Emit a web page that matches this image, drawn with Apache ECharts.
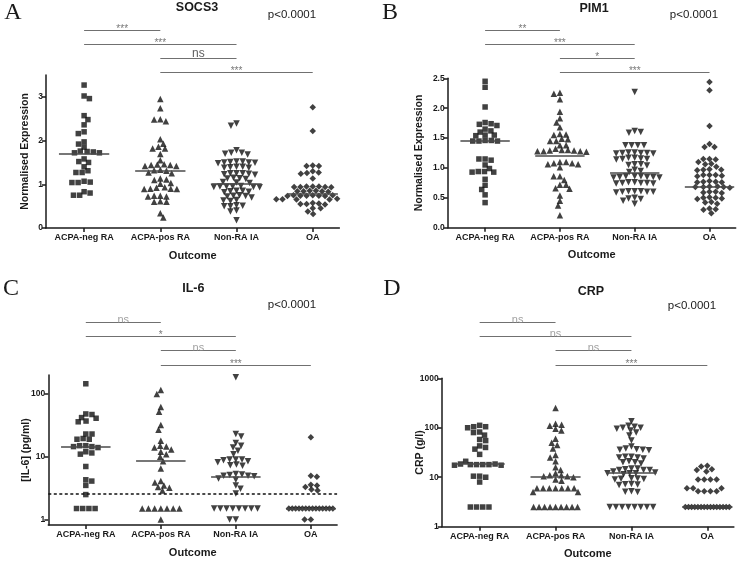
<!DOCTYPE html>
<html><head><meta charset="utf-8">
<script src="https://cdn.jsdelivr.net/npm/echarts@6/dist/echarts.min.js"></script>
<style>html,body{margin:0;padding:0;background:#fff}#c{width:750px;height:561px}</style>
</head><body><div id="c"></div>
<script>
const categories = ['ACPA-neg RA', 'ACPA-pos RA', 'Non-RA IA', 'OA'];

// Panel A: SOCS3 (normalised expression)
const socs3AcpaNeg = [3.27,3.02,2.96,2.57,2.48,2.36,2.20,2.16,1.97,1.92,1.85,1.76,1.72,1.72,1.74,1.75,1.58,1.52,1.50,1.40,1.31,1.27,1.27,1.07,1.04,1.04,1.05,0.80,0.75,0.75,0.83];
const socs3AcpaPos = [2.95,2.74,2.49,2.44,2.48,2.03,1.93,1.86,1.82,1.82,1.69,1.55,1.45,1.44,1.42,1.42,1.44,1.46,1.33,1.32,1.31,1.27,1.25,1.13,1.10,1.11,1.03,1.01,0.92,0.90,0.89,0.89,0.90,0.93,0.74,0.72,0.72,0.74,0.61,0.60,0.60,0.34,0.24];
const socs3NonRA = [2.39,2.34,1.78,1.72,1.70,1.68,1.72,1.52,1.50,1.49,1.48,1.50,1.52,1.51,1.40,1.38,1.38,1.40,1.39,1.25,1.25,1.22,1.24,1.25,1.23,1.15,1.13,1.12,1.14,1.05,1.03,1.04,0.95,0.95,0.94,0.96,0.94,0.95,0.93,0.85,0.83,0.84,0.82,0.85,0.75,0.73,0.72,0.74,0.70,0.64,0.62,0.63,0.52,0.51,0.50,0.50,0.40,0.38,0.18];
const socs3OA = [2.76,2.22,1.42,1.42,1.43,1.26,1.27,1.30,1.24,1.13,0.94,0.95,0.94,0.95,0.94,0.93,0.95,0.84,0.85,0.83,0.84,0.85,0.84,0.74,0.75,0.73,0.74,0.75,0.74,0.73,0.75,0.66,0.65,0.67,0.66,0.65,0.66,0.55,0.54,0.56,0.55,0.57,0.45,0.45,0.32,0.38];
const socs3Medians = [1.70, 1.32, 1.02, 0.79];
const socs3YTicks = [0, 1, 2, 3];
const socs3Sig = [[0,1,'***'],[0,2,'***'],[1,2,'ns'],[1,3,'***']];

// Panel B: PIM1 (normalised expression)
const pim1AcpaNeg = [2.45,2.35,2.02,1.74,1.71,1.76,1.73,1.65,1.60,1.62,1.55,1.54,1.55,1.46,1.45,1.45,1.46,1.45,1.15,1.13,1.15,1.05,0.94,0.93,0.93,0.94,0.99,0.81,0.71,0.64,0.55,0.42];
const pim1AcpaPos = [2.26,2.24,2.15,1.94,1.83,1.76,1.68,1.57,1.56,1.55,1.49,1.45,1.45,1.48,1.38,1.38,1.32,1.30,1.29,1.28,1.28,1.27,1.28,1.29,1.30,1.10,1.08,1.06,1.06,1.08,1.10,1.01,0.86,0.86,0.80,0.72,0.72,0.65,0.66,0.54,0.45,0.37,0.21];
const pim1NonRA = [2.27,1.62,1.60,1.59,1.38,1.38,1.38,1.38,1.26,1.25,1.25,1.24,1.25,1.26,1.24,1.17,1.15,1.16,1.14,1.15,1.17,1.06,1.05,1.04,1.06,0.97,0.95,0.93,0.86,0.85,0.84,0.85,0.86,0.84,0.85,0.86,0.76,0.75,0.74,0.75,0.76,0.74,0.75,0.61,0.60,0.60,0.61,0.59,0.60,0.61,0.50,0.49,0.48,0.45,0.40];
const pim1OA = [2.44,2.30,1.70,1.40,1.35,1.35,1.15,1.14,1.15,1.10,1.07,1.06,1.02,0.98,0.97,0.97,0.96,0.88,0.88,0.87,0.88,0.86,0.77,0.76,0.77,0.76,0.78,0.68,0.68,0.69,0.67,0.68,0.69,0.60,0.59,0.58,0.60,0.50,0.49,0.50,0.48,0.51,0.42,0.43,0.40,0.32,0.31,0.30,0.24];
const pim1Medians = [1.45, 1.21, 0.92, 0.69];
const pim1YTicks = [0, 0.5, 1, 1.5, 2, 2.5];
const pim1Sig = [[0,1,'**'],[0,2,'***'],[1,2,'*'],[1,3,'***']];

// Panel C: IL-6 (pg/ml), log scale
const il6AcpaNeg = [145,48,47,41,42,36,37,23,23,19,19,19.5,15,14.5,14,14.5,15,12,11,11.5,7,4.3,4.1,3.5,2.5,1.5,1.5,1.5,1.5];
const il6AcpaPos = [115,100,62,52,32,27,18,15,14,14.5,13,12,11,10,8.5,6.5,4.1,3.9,3.5,3.3,3.2,2.9,1.5,1.5,1.5,1.5,1.5,1.5,1.5,1.0];
const il6NonRA = [185,23,21,16.5,15,14,12.5,11,9,9,8.8,8.5,9,8.2,7.5,7.3,7.2,5.2,5,4.9,5.3,5,5.1,4.5,4.3,3.5,3.1,2.6,1.5,1.5,1.5,1.5,1.5,1.5,1.5,1.5,1.0,1.0];
const il6OA = [20.5,5.0,4.8,3.6,3.5,3.0,2.9,3.3,1.5,1.5,1.5,1.5,1.5,1.5,1.5,1.5,1.5,1.5,1.5,1.5,1.5,1.5,1.0,1.0];
const il6Medians = [14.4, 8.5, 4.8, 1.5];
const il6YTicks = [1, 10, 100];
const il6Threshold = 2.6;
const il6Sig = [[0,1,'ns'],[0,2,'*'],[1,2,'ns'],[1,3,'***']];

// Panel D: CRP (g/l), log scale
const crpAcpaNeg = [105,100,105,112,82,80,71,58,55,43,40,37,29,21,18.5,18,18,17.5,18,18.5,18,17.5,10.5,10,10.5,8,2.5,2.5,2.5,2.5];
const crpAcpaPos = [250,115,120,110,95,88,60,50,45,38,28,25,21,16,14,11,10.5,10,10.5,11,12,9,8.5,6,6,6,6,6,6,6,5,5,2.5,2.5,2.5,2.5,2.5,2.5,2.5,2.5,2.5];
const crpNonRA = [135,105,100,95,88,80,70,100,110,55,42,38,36,36,35,37,26,25,25,26,24,21,20,19,20,15,14,14.5,14,15,14,13,12.5,12,12,11.5,12,9.5,9.3,9,9.2,9.4,7.2,7,7.3,7.1,5.2,5,5.1,2.5,2.5,2.5,2.5,2.5,2.5,2.5,2.5];
const crpOA = [17,16.5,14.5,13,14,9,9,9,9,6,6,6,5.2,5.2,5.2,5.2,2.5,2.5,2.5,2.5,2.5,2.5,2.5,2.5,2.5,2.5,2.5,2.5,2.5,2.5,2.5];
const crpMedians = [18.5, 10.2, 12.6, 2.5];
const crpYTicks = [1, 10, 100, 1000];
const crpSig = [[0,1,'ns'],[0,2,'ns'],[1,2,'ns'],[1,3,'***']];

const FONT = '"Liberation Sans", Arial, sans-serif';
const INK = '#1a1a1a';

const panels = [
  {letter:'A', title:'SOCS3', groups:[socs3AcpaNeg,socs3AcpaPos,socs3NonRA,socs3OA], medians:socs3Medians, sig:socs3Sig,
   yTicks:socs3YTicks, yFmt:v=>String(v), yName:'Normalised Expression', yType:'value', yMin:0, yMax:3.5, yNameGap:15,
   plot:{left:46, top:75, width:293.4, height:153}, sigBox:{top:16.7, height:70}, nsStyle:{fontSize:12, color:'#333', distance:-1},
   letterPos:[13,12.5], titlePos:[197,8], pPos:[292,14.5]},
  {letter:'B', title:'PIM1', groups:[pim1AcpaNeg,pim1AcpaPos,pim1NonRA,pim1OA], medians:pim1Medians, sig:pim1Sig,
   yTicks:pim1YTicks, yFmt:v=>v.toFixed(1), yName:'Normalised Expression', yType:'value', yMin:0, yMax:2.5, yNameGap:23,
   plot:{left:447.7, top:78.3, width:288, height:149.4}, sigBox:{top:16.7, height:70}, nsStyle:{fontSize:12, color:'#333', distance:-1},
   letterPos:[390,12.5], titlePos:[594,8.3], pPos:[694,15]},
  {letter:'C', title:'IL-6', groups:[il6AcpaNeg,il6AcpaPos,il6NonRA,il6OA], medians:il6Medians, sig:il6Sig,
   yTicks:il6YTicks, yFmt:v=>String(v), yName:'[IL-6] (pg/ml)', yType:'log', yMin:0.82, yMax:200, yNameGap:17,
   plot:{left:48.3, top:375, width:288.8, height:150}, sigBox:{top:308.1, height:71}, nsStyle:{fontSize:11, color:'#888', distance:-3},
   letterPos:[11,289], titlePos:[193.3,289], pPos:[292,305], threshold:il6Threshold},
  {letter:'D', title:'CRP', groups:[crpAcpaNeg,crpAcpaPos,crpNonRA,crpOA], medians:crpMedians, sig:crpSig,
   yTicks:crpYTicks, yFmt:v=>String(v), yName:'CRP (g/l)', yType:'log', yMin:1, yMax:1000, yNameGap:16,
   plot:{left:441.7, top:378.3, width:292.2, height:148.4}, sigBox:{top:308.1, height:71}, nsStyle:{fontSize:11, color:'#888', distance:-3},
   letterPos:[392,289], titlePos:[591,292], pPos:[692,306]}
];

const X_MIN = -0.5, X_MAX = 3.35;
const catIdx = [0, 1, 2, 3];
const SYMBOLS = [
  {symbol:'rect', size:5.5, rotate:0},
  {symbol:'triangle', size:6.5, rotate:0},
  {symbol:'triangle', size:6.5, rotate:180},
  {symbol:'diamond', size:[6.5,6.5], rotate:0}
];

const grids = [], xAxes = [], yAxes = [], series = [], graphics = [];
const axisLineStyle = {color: INK, width: 1.5};

panels.forEach((p, pi) => {
  grids.push({left:p.plot.left, top:p.plot.top, width:p.plot.width, height:p.plot.height});
  xAxes.push({
    type:'value', gridIndex:pi, min:X_MIN, max:X_MAX,
    axisLine:{show:true, onZero:false, lineStyle:axisLineStyle},
    axisTick:{show:true, customValues:catIdx, length:4, lineStyle:axisLineStyle},
    axisLabel:{customValues:catIdx, formatter:v=>categories[Math.round(v)], fontSize:9, fontWeight:'bold', color:INK, fontFamily:FONT, margin:5},
    splitLine:{show:false},
    name:'Outcome', nameLocation:'middle', nameGap:22, nameMoveOverlap:false,
    nameTextStyle:{fontSize:11, fontWeight:'bold', color:INK, fontFamily:FONT}
  });
  const y = {
    type:p.yType, gridIndex:pi, min:p.yMin, max:p.yMax,
    axisLine:{show:true, onZero:false, lineStyle:axisLineStyle},
    axisTick:{show:true, customValues:p.yTicks, length:4, lineStyle:axisLineStyle},
    axisLabel:{customValues:p.yTicks, formatter:p.yFmt, fontSize:8.5, fontWeight:'bold', color:INK, fontFamily:FONT, margin:3},
    splitLine:{show:false}, minorTick:{show:false}, minorSplitLine:{show:false},
    name:p.yName, nameLocation:'middle', nameGap:p.yNameGap, nameRotate:90, nameMoveOverlap:false,
    nameTextStyle:{fontSize:10.5, fontWeight:'bold', color:INK, fontFamily:FONT}
  };
  if (p.yType === 'log') y.logBase = 10;
  yAxes.push(y);

  p.groups.forEach((vals, j) => {
    const s = {
      id:'pts-'+pi+'-'+j, type:'scatter', xAxisIndex:pi, yAxisIndex:pi,
      data:vals.map(v => [j, v]),
      symbol:SYMBOLS[j].symbol, symbolSize:SYMBOLS[j].size, symbolRotate:SYMBOLS[j].rotate,
      itemStyle:{color:'#111'}, silent:true, animation:false, z:3
    };
    if (p.threshold !== undefined && j === 0) {
      s.markLine = {silent:true, symbol:'none', animation:false,
        lineStyle:{type:[3,2.5], color:'#111', width:1.5}, label:{show:false},
        data:[{yAxis:p.threshold}]};
    }
    series.push(s);
  });

  series.push({
    type:'lines', coordinateSystem:'cartesian2d', xAxisIndex:pi, yAxisIndex:pi,
    data:p.medians.map((m, j) => ({coords:[[j-0.33, m],[j+0.33, m]]})),
    lineStyle:{color:'#4a4a4a', width:1.5, opacity:1}, silent:true, animation:false, z:5
  });
});

// significance-bar grids (hidden axes) above each plot
panels.forEach((p, pi) => {
  const gi = panels.length + pi;
  grids.push({left:p.plot.left, top:p.sigBox.top, width:p.plot.width, height:p.sigBox.height});
  xAxes.push({type:'value', gridIndex:gi, min:X_MIN, max:X_MAX, show:false});
  yAxes.push({type:'value', gridIndex:gi, min:0, max:5, inverse:true, show:false});
  series.push({
    type:'lines', coordinateSystem:'cartesian2d', xAxisIndex:gi, yAxisIndex:gi,
    data:p.sig.map((s, k) => ({coords:[[s[0], k+1],[s[1], k+1]]})),
    lineStyle:{color:'#707070', width:1, opacity:1}, silent:true, animation:false
  });
  series.push({
    type:'scatter', xAxisIndex:gi, yAxisIndex:gi, symbolSize:0, silent:true, animation:false,
    data:p.sig.map((s, k) => {
      const isNs = s[2] === 'ns';
      return {
        value:[(s[0]+s[1])/2, k+1, s[2]],
        label:isNs
          ? {show:true, position:'top', distance:p.nsStyle.distance, fontSize:p.nsStyle.fontSize, color:p.nsStyle.color, fontFamily:FONT}
          : {show:true, position:'top', distance:-4, fontSize:10, color:'#555', fontFamily:FONT}
      };
    }),
    label:{show:true, formatter:q => q.value[2]}
  });

  graphics.push({type:'text', x:p.letterPos[0], y:p.letterPos[1],
    style:{text:p.letter, font:'24px "Liberation Serif", "Times New Roman", serif', textAlign:'center', textVerticalAlign:'middle', fill:INK}});
  graphics.push({type:'text', x:p.titlePos[0], y:p.titlePos[1],
    style:{text:p.title, font:'bold 12.5px ' + FONT, textAlign:'center', textVerticalAlign:'middle', fill:INK}});
  graphics.push({type:'text', x:p.pPos[0], y:p.pPos[1],
    style:{text:'p<0.0001', font:'11.5px ' + FONT, textAlign:'center', textVerticalAlign:'middle', fill:INK}});
});

const chart = echarts.init(document.getElementById('c'), null, {renderer:'canvas'});
chart.setOption({animation:false, backgroundColor:'#fff', grid:grids, xAxis:xAxes, yAxis:yAxes, series:series, graphic:graphics});

// Prism-like column scatter: offsets computed in pixel space from the library's own scales.
// Elliptical exclusion zone: (dx/sx)^2 + (dy/sy)^2 >= 1.
function swarm(vals, pys, sx, sy, rowMax) {
  const n = vals.length, xs = new Array(n).fill(0), placed = [], done = new Array(n).fill(false);
  const counts = {};
  vals.forEach(v => { counts[v] = (counts[v] || 0) + 1; });
  Object.keys(counts).forEach(k => {
    const c = counts[k];
    if (c < 4) return;
    const idx = [];
    vals.forEach((v, i) => { if (String(v) === k) idx.push(i); });
    const sp = Math.min(sx, rowMax / (c - 1));
    idx.forEach((i, r) => { xs[i] = (r - (c - 1) / 2) * sp; placed.push({x:xs[i], y:pys[i]}); done[i] = true; });
  });
  const order = vals.map((v, i) => i).filter(i => !done[i]).sort((a, b) => pys[a] - pys[b]);
  let flip = 1;
  order.forEach(i => {
    const y = pys[i];
    const near = placed.filter(q => Math.abs(q.y - y) < sy);
    const need = q => sx * Math.sqrt(1 - Math.pow((q.y - y) / sy, 2));
    const cands = [0];
    near.forEach(q => { const dx = need(q); cands.push(q.x + dx, q.x - dx); });
    cands.sort((a, b) => (Math.abs(a) - Math.abs(b)) || (flip * (b - a)));
    const ok = c => near.every(q => Math.abs(q.x - c) >= need(q) - 0.01);
    const best = cands.find(ok);
    xs[i] = best; flip = -flip;
    placed.push({x:best, y:y});
  });
  return xs;
}

const updates = [];
panels.forEach((p, pi) => {
  const finder = {xAxisIndex:pi, yAxisIndex:pi};
  const ppu = chart.convertToPixel(finder, [1, p.medians[0]])[0] - chart.convertToPixel(finder, [0, p.medians[0]])[0];
  p.groups.forEach((vals, j) => {
    const pys = vals.map(v => chart.convertToPixel(finder, [j, v])[1]);
    const offs = swarm(vals, pys, 6.2, 5.0, 44);
    updates.push({id:'pts-'+pi+'-'+j, data:vals.map((v, i) => [j + offs[i] / ppu, v])});
  });
});
chart.setOption({series:updates});
</script></body></html>
